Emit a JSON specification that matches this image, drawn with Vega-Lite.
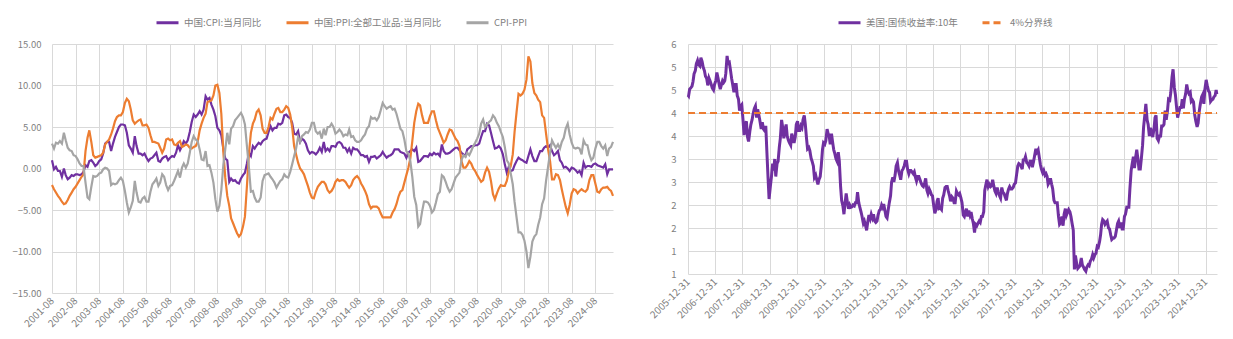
{
  "$schema": "https://vega.github.io/schema/vega-lite/v6.json",
  "background": "white",
  "padding": {"left": 11, "top": 10, "right": 10, "bottom": 5},
  "autosize": {"type": "pad"},
  "bounds": "flush",
  "spacing": 75,
  "resolve": {"scale": {"color": "independent", "strokeDash": "independent", "x": "independent", "y": "independent"}, "legend": {"color": "independent", "strokeDash": "independent"}},
  "config": {
    "font": "Noto Sans CJK SC",
    "view": {"stroke": null},
    "axis": {"grid": true, "gridColor": "#d9d9d9", "gridWidth": 1, "domain": false, "ticks": false, "labelColor": "#7f7f7f", "labelFont": "Noto Sans CJK SC", "labelFontSize": 9.5, "title": null, "labelOverlap": false, "labelFlush": false, "labelBound": false},
    "legend": {"labelFont": "Noto Sans CJK SC", "labelFontSize": 9.5, "labelColor": "#7f7f7f", "symbolType": "stroke", "symbolSize": 484, "symbolStrokeWidth": 3, "columnPadding": 18, "labelOffset": 4, "title": null}
  },
  "hconcat": [
    {
      "width": 561,
      "height": 249,
      "data": {"values": [
{"month":"2001-08","cpi":1.0,"ppi":-2.0,"gap":3.0},
{"month":"2001-09","cpi":-0.1,"ppi":-2.5,"gap":2.4},
{"month":"2001-10","cpi":0.2,"ppi":-2.9,"gap":3.1},
{"month":"2001-11","cpi":-0.3,"ppi":-3.3,"gap":3.0},
{"month":"2001-12","cpi":-0.3,"ppi":-3.6,"gap":3.3},
{"month":"2002-01","cpi":-1.0,"ppi":-4.0,"gap":3.0},
{"month":"2002-02","cpi":0.0,"ppi":-4.3,"gap":4.3},
{"month":"2002-03","cpi":-0.8,"ppi":-4.2,"gap":3.4},
{"month":"2002-04","cpi":-1.3,"ppi":-3.8,"gap":2.5},
{"month":"2002-05","cpi":-1.1,"ppi":-3.3,"gap":2.2},
{"month":"2002-06","cpi":-0.8,"ppi":-2.9,"gap":2.1},
{"month":"2002-07","cpi":-0.9,"ppi":-2.5,"gap":1.6},
{"month":"2002-08","cpi":-0.7,"ppi":-2.2,"gap":1.5},
{"month":"2002-09","cpi":-0.7,"ppi":-1.8,"gap":1.1},
{"month":"2002-10","cpi":-0.8,"ppi":-1.4,"gap":0.6},
{"month":"2002-11","cpi":-0.7,"ppi":-1.0,"gap":0.3},
{"month":"2002-12","cpi":-0.4,"ppi":-0.7,"gap":0.3},
{"month":"2003-01","cpi":0.4,"ppi":2.1,"gap":-1.7},
{"month":"2003-02","cpi":0.2,"ppi":3.7,"gap":-3.5},
{"month":"2003-03","cpi":0.9,"ppi":4.6,"gap":-3.7},
{"month":"2003-04","cpi":1.0,"ppi":3.2,"gap":-2.2},
{"month":"2003-05","cpi":0.7,"ppi":1.6,"gap":-0.9},
{"month":"2003-06","cpi":0.3,"ppi":1.3,"gap":-1.0},
{"month":"2003-07","cpi":0.5,"ppi":1.4,"gap":-0.9},
{"month":"2003-08","cpi":0.9,"ppi":1.5,"gap":-0.6},
{"month":"2003-09","cpi":1.1,"ppi":1.6,"gap":-0.5},
{"month":"2003-10","cpi":1.8,"ppi":1.9,"gap":-0.1},
{"month":"2003-11","cpi":3.0,"ppi":2.9,"gap":0.1},
{"month":"2003-12","cpi":3.2,"ppi":3.2,"gap":0.0},
{"month":"2004-01","cpi":3.2,"ppi":3.5,"gap":-0.3},
{"month":"2004-02","cpi":2.1,"ppi":4.1,"gap":-2.0},
{"month":"2004-03","cpi":3.0,"ppi":4.8,"gap":-1.8},
{"month":"2004-04","cpi":3.8,"ppi":5.7,"gap":-1.9},
{"month":"2004-05","cpi":4.4,"ppi":6.2,"gap":-1.8},
{"month":"2004-06","cpi":5.0,"ppi":6.4,"gap":-1.4},
{"month":"2004-07","cpi":5.3,"ppi":6.4,"gap":-1.1},
{"month":"2004-08","cpi":5.3,"ppi":6.8,"gap":-1.5},
{"month":"2004-09","cpi":5.2,"ppi":7.9,"gap":-2.7},
{"month":"2004-10","cpi":4.3,"ppi":8.4,"gap":-4.1},
{"month":"2004-11","cpi":2.8,"ppi":8.1,"gap":-5.3},
{"month":"2004-12","cpi":2.4,"ppi":7.1,"gap":-4.7},
{"month":"2005-01","cpi":1.9,"ppi":5.8,"gap":-3.9},
{"month":"2005-02","cpi":3.9,"ppi":5.4,"gap":-1.5},
{"month":"2005-03","cpi":2.7,"ppi":5.6,"gap":-2.9},
{"month":"2005-04","cpi":1.8,"ppi":5.8,"gap":-4.0},
{"month":"2005-05","cpi":1.8,"ppi":5.9,"gap":-4.1},
{"month":"2005-06","cpi":1.6,"ppi":5.2,"gap":-3.6},
{"month":"2005-07","cpi":1.8,"ppi":5.2,"gap":-3.4},
{"month":"2005-08","cpi":1.3,"ppi":5.3,"gap":-4.0},
{"month":"2005-09","cpi":0.9,"ppi":4.9,"gap":-4.0},
{"month":"2005-10","cpi":1.2,"ppi":4.0,"gap":-2.8},
{"month":"2005-11","cpi":1.3,"ppi":3.2,"gap":-1.9},
{"month":"2005-12","cpi":1.6,"ppi":3.2,"gap":-1.6},
{"month":"2006-01","cpi":1.9,"ppi":3.1,"gap":-1.2},
{"month":"2006-02","cpi":0.9,"ppi":3.0,"gap":-2.1},
{"month":"2006-03","cpi":0.8,"ppi":2.5,"gap":-1.7},
{"month":"2006-04","cpi":1.2,"ppi":1.9,"gap":-0.7},
{"month":"2006-05","cpi":1.4,"ppi":2.4,"gap":-1.0},
{"month":"2006-06","cpi":1.5,"ppi":3.5,"gap":-2.0},
{"month":"2006-07","cpi":1.0,"ppi":3.6,"gap":-2.6},
{"month":"2006-08","cpi":1.3,"ppi":3.4,"gap":-2.1},
{"month":"2006-09","cpi":1.5,"ppi":3.5,"gap":-2.0},
{"month":"2006-10","cpi":1.4,"ppi":2.9,"gap":-1.5},
{"month":"2006-11","cpi":1.9,"ppi":2.8,"gap":-0.9},
{"month":"2006-12","cpi":2.8,"ppi":3.1,"gap":-0.3},
{"month":"2007-01","cpi":2.2,"ppi":3.3,"gap":-1.1},
{"month":"2007-02","cpi":2.7,"ppi":2.6,"gap":0.1},
{"month":"2007-03","cpi":3.3,"ppi":2.7,"gap":0.6},
{"month":"2007-04","cpi":3.0,"ppi":2.9,"gap":0.1},
{"month":"2007-05","cpi":3.4,"ppi":2.8,"gap":0.6},
{"month":"2007-06","cpi":4.4,"ppi":2.5,"gap":1.9},
{"month":"2007-07","cpi":5.6,"ppi":2.4,"gap":3.2},
{"month":"2007-08","cpi":6.5,"ppi":2.6,"gap":3.9},
{"month":"2007-09","cpi":6.2,"ppi":2.7,"gap":3.5},
{"month":"2007-10","cpi":6.5,"ppi":3.2,"gap":3.3},
{"month":"2007-11","cpi":6.9,"ppi":4.6,"gap":2.3},
{"month":"2007-12","cpi":6.5,"ppi":5.4,"gap":1.1},
{"month":"2008-01","cpi":7.1,"ppi":6.1,"gap":1.0},
{"month":"2008-02","cpi":8.7,"ppi":6.6,"gap":2.1},
{"month":"2008-03","cpi":8.3,"ppi":8.0,"gap":0.3},
{"month":"2008-04","cpi":8.5,"ppi":8.1,"gap":0.4},
{"month":"2008-05","cpi":7.7,"ppi":8.2,"gap":-0.5},
{"month":"2008-06","cpi":7.1,"ppi":8.8,"gap":-1.7},
{"month":"2008-07","cpi":6.3,"ppi":10.0,"gap":-3.7},
{"month":"2008-08","cpi":4.9,"ppi":10.1,"gap":-5.2},
{"month":"2008-09","cpi":4.6,"ppi":9.1,"gap":-4.5},
{"month":"2008-10","cpi":4.0,"ppi":6.6,"gap":-2.6},
{"month":"2008-11","cpi":2.4,"ppi":2.0,"gap":0.4},
{"month":"2008-12","cpi":1.2,"ppi":-1.1,"gap":2.3},
{"month":"2009-01","cpi":1.0,"ppi":-3.3,"gap":4.3},
{"month":"2009-02","cpi":-1.6,"ppi":-4.5,"gap":2.9},
{"month":"2009-03","cpi":-1.2,"ppi":-6.0,"gap":4.8},
{"month":"2009-04","cpi":-1.5,"ppi":-6.6,"gap":5.1},
{"month":"2009-05","cpi":-1.4,"ppi":-7.2,"gap":5.8},
{"month":"2009-06","cpi":-1.7,"ppi":-7.8,"gap":6.1},
{"month":"2009-07","cpi":-1.8,"ppi":-8.2,"gap":6.4},
{"month":"2009-08","cpi":-1.2,"ppi":-7.9,"gap":6.7},
{"month":"2009-09","cpi":-0.8,"ppi":-7.0,"gap":6.2},
{"month":"2009-10","cpi":-0.5,"ppi":-5.8,"gap":5.3},
{"month":"2009-11","cpi":0.6,"ppi":-2.1,"gap":2.7},
{"month":"2009-12","cpi":1.9,"ppi":1.7,"gap":0.2},
{"month":"2010-01","cpi":1.5,"ppi":4.3,"gap":-2.8},
{"month":"2010-02","cpi":2.7,"ppi":5.4,"gap":-2.7},
{"month":"2010-03","cpi":2.4,"ppi":5.9,"gap":-3.5},
{"month":"2010-04","cpi":2.8,"ppi":6.8,"gap":-4.0},
{"month":"2010-05","cpi":3.1,"ppi":7.1,"gap":-4.0},
{"month":"2010-06","cpi":2.9,"ppi":6.4,"gap":-3.5},
{"month":"2010-07","cpi":3.3,"ppi":4.8,"gap":-1.5},
{"month":"2010-08","cpi":3.5,"ppi":4.3,"gap":-0.8},
{"month":"2010-09","cpi":3.6,"ppi":4.3,"gap":-0.7},
{"month":"2010-10","cpi":4.4,"ppi":5.0,"gap":-0.6},
{"month":"2010-11","cpi":5.1,"ppi":6.1,"gap":-1.0},
{"month":"2010-12","cpi":4.6,"ppi":5.9,"gap":-1.3},
{"month":"2011-01","cpi":4.9,"ppi":6.6,"gap":-1.7},
{"month":"2011-02","cpi":4.9,"ppi":7.2,"gap":-2.3},
{"month":"2011-03","cpi":5.4,"ppi":7.3,"gap":-1.9},
{"month":"2011-04","cpi":5.3,"ppi":6.8,"gap":-1.5},
{"month":"2011-05","cpi":5.5,"ppi":6.8,"gap":-1.3},
{"month":"2011-06","cpi":6.4,"ppi":7.1,"gap":-0.7},
{"month":"2011-07","cpi":6.5,"ppi":7.5,"gap":-1.0},
{"month":"2011-08","cpi":6.2,"ppi":7.3,"gap":-1.1},
{"month":"2011-09","cpi":6.1,"ppi":6.5,"gap":-0.4},
{"month":"2011-10","cpi":5.5,"ppi":5.0,"gap":0.5},
{"month":"2011-11","cpi":4.2,"ppi":2.7,"gap":1.5},
{"month":"2011-12","cpi":4.1,"ppi":1.7,"gap":2.4},
{"month":"2012-01","cpi":4.5,"ppi":0.7,"gap":3.8},
{"month":"2012-02","cpi":3.2,"ppi":0.0,"gap":3.2},
{"month":"2012-03","cpi":3.6,"ppi":-0.3,"gap":3.9},
{"month":"2012-04","cpi":3.4,"ppi":-0.7,"gap":4.1},
{"month":"2012-05","cpi":3.0,"ppi":-1.4,"gap":4.4},
{"month":"2012-06","cpi":2.2,"ppi":-2.1,"gap":4.3},
{"month":"2012-07","cpi":1.8,"ppi":-2.9,"gap":4.7},
{"month":"2012-08","cpi":2.0,"ppi":-3.5,"gap":5.5},
{"month":"2012-09","cpi":1.9,"ppi":-3.6,"gap":5.5},
{"month":"2012-10","cpi":1.7,"ppi":-2.8,"gap":4.5},
{"month":"2012-11","cpi":2.0,"ppi":-2.2,"gap":4.2},
{"month":"2012-12","cpi":2.5,"ppi":-1.9,"gap":4.4},
{"month":"2013-01","cpi":2.0,"ppi":-1.6,"gap":3.6},
{"month":"2013-02","cpi":3.2,"ppi":-1.6,"gap":4.8},
{"month":"2013-03","cpi":2.1,"ppi":-1.9,"gap":4.0},
{"month":"2013-04","cpi":2.4,"ppi":-2.6,"gap":5.0},
{"month":"2013-05","cpi":2.1,"ppi":-2.9,"gap":5.0},
{"month":"2013-06","cpi":2.7,"ppi":-2.7,"gap":5.4},
{"month":"2013-07","cpi":2.7,"ppi":-2.3,"gap":5.0},
{"month":"2013-08","cpi":2.6,"ppi":-1.6,"gap":4.2},
{"month":"2013-09","cpi":3.1,"ppi":-1.3,"gap":4.4},
{"month":"2013-10","cpi":3.2,"ppi":-1.5,"gap":4.7},
{"month":"2013-11","cpi":3.0,"ppi":-1.4,"gap":4.4},
{"month":"2013-12","cpi":2.5,"ppi":-1.4,"gap":3.9},
{"month":"2014-01","cpi":2.5,"ppi":-1.6,"gap":4.1},
{"month":"2014-02","cpi":2.0,"ppi":-2.0,"gap":4.0},
{"month":"2014-03","cpi":2.4,"ppi":-2.3,"gap":4.7},
{"month":"2014-04","cpi":1.8,"ppi":-2.0,"gap":3.8},
{"month":"2014-05","cpi":2.5,"ppi":-1.4,"gap":3.9},
{"month":"2014-06","cpi":2.3,"ppi":-1.1,"gap":3.4},
{"month":"2014-07","cpi":2.3,"ppi":-0.9,"gap":3.2},
{"month":"2014-08","cpi":2.0,"ppi":-1.2,"gap":3.2},
{"month":"2014-09","cpi":1.6,"ppi":-1.8,"gap":3.4},
{"month":"2014-10","cpi":1.6,"ppi":-2.2,"gap":3.8},
{"month":"2014-11","cpi":1.4,"ppi":-2.7,"gap":4.1},
{"month":"2014-12","cpi":1.5,"ppi":-3.3,"gap":4.8},
{"month":"2015-01","cpi":0.8,"ppi":-4.3,"gap":5.1},
{"month":"2015-02","cpi":1.4,"ppi":-4.8,"gap":6.2},
{"month":"2015-03","cpi":1.4,"ppi":-4.6,"gap":6.0},
{"month":"2015-04","cpi":1.5,"ppi":-4.6,"gap":6.1},
{"month":"2015-05","cpi":1.2,"ppi":-4.6,"gap":5.8},
{"month":"2015-06","cpi":1.4,"ppi":-4.8,"gap":6.2},
{"month":"2015-07","cpi":1.6,"ppi":-5.4,"gap":7.0},
{"month":"2015-08","cpi":2.0,"ppi":-5.9,"gap":7.9},
{"month":"2015-09","cpi":1.6,"ppi":-5.9,"gap":7.5},
{"month":"2015-10","cpi":1.3,"ppi":-5.9,"gap":7.2},
{"month":"2015-11","cpi":1.5,"ppi":-5.9,"gap":7.4},
{"month":"2015-12","cpi":1.6,"ppi":-5.9,"gap":7.5},
{"month":"2016-01","cpi":1.8,"ppi":-5.3,"gap":7.1},
{"month":"2016-02","cpi":2.3,"ppi":-4.9,"gap":7.2},
{"month":"2016-03","cpi":2.3,"ppi":-4.3,"gap":6.6},
{"month":"2016-04","cpi":2.3,"ppi":-3.4,"gap":5.7},
{"month":"2016-05","cpi":2.0,"ppi":-2.8,"gap":4.8},
{"month":"2016-06","cpi":1.9,"ppi":-2.6,"gap":4.5},
{"month":"2016-07","cpi":1.8,"ppi":-1.7,"gap":3.5},
{"month":"2016-08","cpi":1.3,"ppi":-0.8,"gap":2.1},
{"month":"2016-09","cpi":1.9,"ppi":0.1,"gap":1.8},
{"month":"2016-10","cpi":2.1,"ppi":1.2,"gap":0.9},
{"month":"2016-11","cpi":2.3,"ppi":3.3,"gap":-1.0},
{"month":"2016-12","cpi":2.1,"ppi":5.5,"gap":-3.4},
{"month":"2017-01","cpi":2.5,"ppi":6.9,"gap":-4.4},
{"month":"2017-02","cpi":0.8,"ppi":7.8,"gap":-7.0},
{"month":"2017-03","cpi":0.9,"ppi":7.6,"gap":-6.7},
{"month":"2017-04","cpi":1.2,"ppi":6.4,"gap":-5.2},
{"month":"2017-05","cpi":1.5,"ppi":5.5,"gap":-4.0},
{"month":"2017-06","cpi":1.5,"ppi":5.5,"gap":-4.0},
{"month":"2017-07","cpi":1.4,"ppi":5.5,"gap":-4.1},
{"month":"2017-08","cpi":1.8,"ppi":6.3,"gap":-4.5},
{"month":"2017-09","cpi":1.6,"ppi":6.9,"gap":-5.3},
{"month":"2017-10","cpi":1.9,"ppi":6.9,"gap":-5.0},
{"month":"2017-11","cpi":1.7,"ppi":5.8,"gap":-4.1},
{"month":"2017-12","cpi":1.8,"ppi":4.9,"gap":-3.1},
{"month":"2018-01","cpi":1.5,"ppi":4.3,"gap":-2.8},
{"month":"2018-02","cpi":2.9,"ppi":3.7,"gap":-0.8},
{"month":"2018-03","cpi":2.1,"ppi":3.1,"gap":-1.0},
{"month":"2018-04","cpi":1.8,"ppi":3.4,"gap":-1.6},
{"month":"2018-05","cpi":1.8,"ppi":4.1,"gap":-2.3},
{"month":"2018-06","cpi":1.9,"ppi":4.7,"gap":-2.8},
{"month":"2018-07","cpi":2.1,"ppi":4.6,"gap":-2.5},
{"month":"2018-08","cpi":2.3,"ppi":4.1,"gap":-1.8},
{"month":"2018-09","cpi":2.5,"ppi":3.6,"gap":-1.1},
{"month":"2018-10","cpi":2.5,"ppi":3.3,"gap":-0.8},
{"month":"2018-11","cpi":2.2,"ppi":2.7,"gap":-0.5},
{"month":"2018-12","cpi":1.9,"ppi":0.9,"gap":1.0},
{"month":"2019-01","cpi":1.7,"ppi":0.1,"gap":1.6},
{"month":"2019-02","cpi":1.5,"ppi":0.1,"gap":1.4},
{"month":"2019-03","cpi":2.3,"ppi":0.4,"gap":1.9},
{"month":"2019-04","cpi":2.5,"ppi":0.9,"gap":1.6},
{"month":"2019-05","cpi":2.7,"ppi":0.6,"gap":2.1},
{"month":"2019-06","cpi":2.7,"ppi":0.0,"gap":2.7},
{"month":"2019-07","cpi":2.8,"ppi":-0.3,"gap":3.1},
{"month":"2019-08","cpi":2.8,"ppi":-0.8,"gap":3.6},
{"month":"2019-09","cpi":3.0,"ppi":-1.2,"gap":4.2},
{"month":"2019-10","cpi":3.8,"ppi":-1.6,"gap":5.4},
{"month":"2019-11","cpi":4.5,"ppi":-1.4,"gap":5.9},
{"month":"2019-12","cpi":4.5,"ppi":-0.5,"gap":5.0},
{"month":"2020-01","cpi":5.4,"ppi":0.1,"gap":5.3},
{"month":"2020-02","cpi":5.2,"ppi":-0.4,"gap":5.6},
{"month":"2020-03","cpi":4.3,"ppi":-1.5,"gap":5.8},
{"month":"2020-04","cpi":3.3,"ppi":-3.1,"gap":6.4},
{"month":"2020-05","cpi":2.4,"ppi":-3.7,"gap":6.1},
{"month":"2020-06","cpi":2.5,"ppi":-3.0,"gap":5.5},
{"month":"2020-07","cpi":2.7,"ppi":-2.4,"gap":5.1},
{"month":"2020-08","cpi":2.4,"ppi":-2.0,"gap":4.4},
{"month":"2020-09","cpi":1.7,"ppi":-2.1,"gap":3.8},
{"month":"2020-10","cpi":0.5,"ppi":-2.1,"gap":2.6},
{"month":"2020-11","cpi":-0.5,"ppi":-1.5,"gap":1.0},
{"month":"2020-12","cpi":0.2,"ppi":-0.4,"gap":0.6},
{"month":"2021-01","cpi":-0.3,"ppi":0.3,"gap":-0.6},
{"month":"2021-02","cpi":-0.2,"ppi":1.7,"gap":-1.9},
{"month":"2021-03","cpi":0.4,"ppi":4.4,"gap":-4.0},
{"month":"2021-04","cpi":0.9,"ppi":6.8,"gap":-5.9},
{"month":"2021-05","cpi":1.3,"ppi":9.0,"gap":-7.7},
{"month":"2021-06","cpi":1.1,"ppi":8.8,"gap":-7.7},
{"month":"2021-07","cpi":1.0,"ppi":9.0,"gap":-8.0},
{"month":"2021-08","cpi":0.8,"ppi":9.5,"gap":-8.7},
{"month":"2021-09","cpi":0.7,"ppi":10.7,"gap":-10.0},
{"month":"2021-10","cpi":1.5,"ppi":13.5,"gap":-12.0},
{"month":"2021-11","cpi":2.3,"ppi":12.9,"gap":-10.6},
{"month":"2021-12","cpi":1.5,"ppi":10.3,"gap":-8.8},
{"month":"2022-01","cpi":0.9,"ppi":9.1,"gap":-8.2},
{"month":"2022-02","cpi":0.9,"ppi":8.8,"gap":-7.9},
{"month":"2022-03","cpi":1.5,"ppi":8.3,"gap":-6.8},
{"month":"2022-04","cpi":2.1,"ppi":8.0,"gap":-5.9},
{"month":"2022-05","cpi":2.1,"ppi":6.4,"gap":-4.3},
{"month":"2022-06","cpi":2.5,"ppi":6.1,"gap":-3.6},
{"month":"2022-07","cpi":2.7,"ppi":4.2,"gap":-1.5},
{"month":"2022-08","cpi":2.5,"ppi":2.3,"gap":0.2},
{"month":"2022-09","cpi":2.8,"ppi":0.9,"gap":1.9},
{"month":"2022-10","cpi":2.1,"ppi":-1.3,"gap":3.4},
{"month":"2022-11","cpi":1.6,"ppi":-1.3,"gap":2.9},
{"month":"2022-12","cpi":1.8,"ppi":-0.7,"gap":2.5},
{"month":"2023-01","cpi":2.1,"ppi":-0.8,"gap":2.9},
{"month":"2023-02","cpi":1.0,"ppi":-1.4,"gap":2.4},
{"month":"2023-03","cpi":0.7,"ppi":-2.5,"gap":3.2},
{"month":"2023-04","cpi":0.1,"ppi":-3.6,"gap":3.7},
{"month":"2023-05","cpi":0.2,"ppi":-4.6,"gap":4.8},
{"month":"2023-06","cpi":0.0,"ppi":-5.4,"gap":5.4},
{"month":"2023-07","cpi":-0.3,"ppi":-4.4,"gap":4.1},
{"month":"2023-08","cpi":0.1,"ppi":-3.0,"gap":3.1},
{"month":"2023-09","cpi":0.0,"ppi":-2.5,"gap":2.5},
{"month":"2023-10","cpi":-0.2,"ppi":-2.6,"gap":2.4},
{"month":"2023-11","cpi":-0.5,"ppi":-3.0,"gap":2.5},
{"month":"2023-12","cpi":-0.3,"ppi":-2.7,"gap":2.4},
{"month":"2024-01","cpi":-0.8,"ppi":-2.5,"gap":1.7},
{"month":"2024-02","cpi":0.7,"ppi":-2.7,"gap":3.4},
{"month":"2024-03","cpi":0.1,"ppi":-2.8,"gap":2.9},
{"month":"2024-04","cpi":0.3,"ppi":-2.5,"gap":2.8},
{"month":"2024-05","cpi":0.3,"ppi":-1.4,"gap":1.7},
{"month":"2024-06","cpi":0.2,"ppi":-0.8,"gap":1.0},
{"month":"2024-07","cpi":0.5,"ppi":-0.8,"gap":1.3},
{"month":"2024-08","cpi":0.6,"ppi":-1.8,"gap":2.4},
{"month":"2024-09","cpi":0.4,"ppi":-2.8,"gap":3.2},
{"month":"2024-10","cpi":0.3,"ppi":-2.9,"gap":3.2},
{"month":"2024-11","cpi":0.2,"ppi":-2.5,"gap":2.7},
{"month":"2024-12","cpi":0.1,"ppi":-2.3,"gap":2.4},
{"month":"2025-01","cpi":0.5,"ppi":-2.3,"gap":2.8},
{"month":"2025-02","cpi":-0.7,"ppi":-2.2,"gap":1.5},
{"month":"2025-03","cpi":-0.1,"ppi":-2.5,"gap":2.4},
{"month":"2025-04","cpi":-0.1,"ppi":-2.7,"gap":2.6},
{"month":"2025-05","cpi":-0.1,"ppi":-3.3,"gap":3.2}
      ]},
      "encoding": {
        "x": {"field": "month", "type": "temporal",
          "scale": {"type": "utc", "domain": [{"year": 2001, "month": 8, "date": 1, "utc": true}, {"year": 2025, "month": 5, "date": 1, "utc": true}]},
          "axis": {"format": "%Y-%m", "labelAngle": -45, "labelAlign": "right", "labelBaseline": "middle", "labelFontSize": 10, "labelPadding": 6,
            "values": [
              {"year": 2001, "month": 8, "date": 1, "utc": true}, {"year": 2002, "month": 8, "date": 1, "utc": true}, {"year": 2003, "month": 8, "date": 1, "utc": true}, {"year": 2004, "month": 8, "date": 1, "utc": true},
              {"year": 2005, "month": 8, "date": 1, "utc": true}, {"year": 2006, "month": 8, "date": 1, "utc": true}, {"year": 2007, "month": 8, "date": 1, "utc": true}, {"year": 2008, "month": 8, "date": 1, "utc": true},
              {"year": 2009, "month": 8, "date": 1, "utc": true}, {"year": 2010, "month": 8, "date": 1, "utc": true}, {"year": 2011, "month": 8, "date": 1, "utc": true}, {"year": 2012, "month": 8, "date": 1, "utc": true},
              {"year": 2013, "month": 8, "date": 1, "utc": true}, {"year": 2014, "month": 8, "date": 1, "utc": true}, {"year": 2015, "month": 8, "date": 1, "utc": true}, {"year": 2016, "month": 8, "date": 1, "utc": true},
              {"year": 2017, "month": 8, "date": 1, "utc": true}, {"year": 2018, "month": 8, "date": 1, "utc": true}, {"year": 2019, "month": 8, "date": 1, "utc": true}, {"year": 2020, "month": 8, "date": 1, "utc": true},
              {"year": 2021, "month": 8, "date": 1, "utc": true}, {"year": 2022, "month": 8, "date": 1, "utc": true}, {"year": 2023, "month": 8, "date": 1, "utc": true}, {"year": 2024, "month": 8, "date": 1, "utc": true}
            ]}}
      },
      "layer": [
        {"mark": {"type": "line", "strokeWidth": 2.2},
         "encoding": {
           "y": {"field": "cpi", "type": "quantitative", "scale": {"domain": [-15, 15], "nice": false, "zero": false}, "axis": {"values": [-15, -10, -5, 0, 5, 10, 15], "format": ".2f", "labelPadding": 11}},
           "color": {"datum": "中国:CPI:当月同比", "scale": {"domain": ["中国:CPI:当月同比", "中国:PPI:全部工业品:当月同比", "CPI-PPI"], "range": ["#7030a0", "#ed7d31", "#a5a5a5"]},
             "legend": {"orient": "none", "direction": "horizontal", "legendX": 103, "legendY": -34}}}},
        {"mark": {"type": "line", "strokeWidth": 2.2},
         "encoding": {
           "y": {"field": "ppi", "type": "quantitative", "scale": {"domain": [-15, 15], "nice": false, "zero": false}},
           "color": {"datum": "中国:PPI:全部工业品:当月同比"}}},
        {"mark": {"type": "line", "strokeWidth": 2.2},
         "encoding": {
           "y": {"field": "gap", "type": "quantitative", "scale": {"domain": [-15, 15], "nice": false, "zero": false}},
           "color": {"datum": "CPI-PPI"}}}
      ]
    },
    {
      "width": 529,
      "height": 230,
      "encoding": {
        "x": {"field": "d", "type": "temporal",
          "scale": {"type": "utc", "domain": [{"year": 2005, "month": 12, "date": 31, "utc": true}, {"year": 2025, "month": 6, "date": 2, "utc": true}]},
          "axis": {"format": "%Y-%m-%d", "labelAngle": -45, "labelAlign": "right", "labelBaseline": "middle", "labelFontSize": 10, "labelPadding": 6,
            "values": [
              {"year": 2005, "month": 12, "date": 31, "utc": true}, {"year": 2006, "month": 12, "date": 31, "utc": true}, {"year": 2007, "month": 12, "date": 31, "utc": true}, {"year": 2008, "month": 12, "date": 31, "utc": true},
              {"year": 2009, "month": 12, "date": 31, "utc": true}, {"year": 2010, "month": 12, "date": 31, "utc": true}, {"year": 2011, "month": 12, "date": 31, "utc": true}, {"year": 2012, "month": 12, "date": 31, "utc": true},
              {"year": 2013, "month": 12, "date": 31, "utc": true}, {"year": 2014, "month": 12, "date": 31, "utc": true}, {"year": 2015, "month": 12, "date": 31, "utc": true}, {"year": 2016, "month": 12, "date": 31, "utc": true},
              {"year": 2017, "month": 12, "date": 31, "utc": true}, {"year": 2018, "month": 12, "date": 31, "utc": true}, {"year": 2019, "month": 12, "date": 31, "utc": true}, {"year": 2020, "month": 12, "date": 31, "utc": true},
              {"year": 2021, "month": 12, "date": 31, "utc": true}, {"year": 2022, "month": 12, "date": 31, "utc": true}, {"year": 2023, "month": 12, "date": 31, "utc": true}, {"year": 2024, "month": 12, "date": 31, "utc": true}
            ]}},
        "y": {"field": "v", "type": "quantitative", "scale": {"domain": [0.5, 5.5], "nice": false, "zero": false}, "axis": {"values": [0.5, 1, 1.5, 2, 2.5, 3, 3.5, 4, 4.5, 5, 5.5], "format": ".0f", "labelPadding": 12}}
      },
      "layer": [
        {"data": {"values": [
{"d":"2005-12-30","v":4.39},
{"d":"2006-01-08","v":4.37},{"d":"2006-01-22","v":4.52},{"d":"2006-02-08","v":4.55},{"d":"2006-02-22","v":4.58},
{"d":"2006-03-08","v":4.68},{"d":"2006-03-22","v":4.85},{"d":"2006-04-08","v":4.92},{"d":"2006-04-22","v":5.07},
{"d":"2006-05-08","v":5.14},{"d":"2006-05-22","v":5.05},{"d":"2006-06-08","v":5.02},{"d":"2006-06-22","v":5.20},
{"d":"2006-07-08","v":5.12},{"d":"2006-07-22","v":5.00},{"d":"2006-08-08","v":4.92},{"d":"2006-08-22","v":4.80},
{"d":"2006-09-08","v":4.75},{"d":"2006-09-22","v":4.60},{"d":"2006-10-08","v":4.76},{"d":"2006-10-22","v":4.70},
{"d":"2006-11-08","v":4.62},{"d":"2006-11-22","v":4.54},{"d":"2006-12-08","v":4.50},{"d":"2006-12-22","v":4.62},
{"d":"2007-01-08","v":4.70},{"d":"2007-01-22","v":4.88},{"d":"2007-02-08","v":4.75},{"d":"2007-02-22","v":4.62},
{"d":"2007-03-08","v":4.52},{"d":"2007-03-22","v":4.60},{"d":"2007-04-08","v":4.70},{"d":"2007-04-22","v":4.66},
{"d":"2007-05-08","v":4.70},{"d":"2007-05-22","v":4.86},{"d":"2007-06-08","v":5.24},{"d":"2007-06-22","v":5.08},
{"d":"2007-07-08","v":5.10},{"d":"2007-07-22","v":4.95},{"d":"2007-08-08","v":4.75},{"d":"2007-08-22","v":4.62},
{"d":"2007-09-08","v":4.45},{"d":"2007-09-22","v":4.62},{"d":"2007-10-08","v":4.62},{"d":"2007-10-22","v":4.38},
{"d":"2007-11-08","v":4.30},{"d":"2007-11-22","v":4.05},{"d":"2007-12-08","v":4.15},{"d":"2007-12-22","v":4.18},
{"d":"2008-01-08","v":3.84},{"d":"2008-01-22","v":3.52},{"d":"2008-02-08","v":3.75},{"d":"2008-02-22","v":3.82},
{"d":"2008-03-08","v":3.48},{"d":"2008-03-22","v":3.38},{"d":"2008-04-08","v":3.60},{"d":"2008-04-22","v":3.75},
{"d":"2008-05-08","v":3.85},{"d":"2008-05-22","v":3.98},{"d":"2008-06-08","v":4.10},{"d":"2008-06-22","v":4.15},
{"d":"2008-07-08","v":3.90},{"d":"2008-07-22","v":4.08},{"d":"2008-08-08","v":3.95},{"d":"2008-08-22","v":3.82},
{"d":"2008-09-08","v":3.65},{"d":"2008-09-22","v":3.80},{"d":"2008-10-08","v":3.65},{"d":"2008-10-22","v":3.62},
{"d":"2008-11-08","v":3.72},{"d":"2008-11-22","v":3.18},{"d":"2008-12-08","v":2.60},{"d":"2008-12-22","v":2.13},
{"d":"2009-01-08","v":2.40},{"d":"2009-01-22","v":2.60},{"d":"2009-02-08","v":2.90},{"d":"2009-02-22","v":2.75},
{"d":"2009-03-08","v":3.00},{"d":"2009-03-22","v":2.62},{"d":"2009-04-08","v":2.90},{"d":"2009-04-22","v":2.95},
{"d":"2009-05-08","v":3.25},{"d":"2009-05-22","v":3.45},{"d":"2009-06-08","v":3.85},{"d":"2009-06-22","v":3.70},
{"d":"2009-07-08","v":3.45},{"d":"2009-07-22","v":3.62},{"d":"2009-08-08","v":3.75},{"d":"2009-08-22","v":3.50},
{"d":"2009-09-08","v":3.40},{"d":"2009-09-22","v":3.35},{"d":"2009-10-08","v":3.30},{"d":"2009-10-22","v":3.55},
{"d":"2009-11-08","v":3.45},{"d":"2009-11-22","v":3.35},{"d":"2009-12-08","v":3.48},{"d":"2009-12-22","v":3.75},
{"d":"2010-01-08","v":3.82},{"d":"2010-01-22","v":3.62},{"d":"2010-02-08","v":3.62},{"d":"2010-02-22","v":3.72},
{"d":"2010-03-08","v":3.68},{"d":"2010-03-22","v":3.85},{"d":"2010-04-08","v":3.95},{"d":"2010-04-22","v":3.75},
{"d":"2010-05-08","v":3.45},{"d":"2010-05-22","v":3.22},{"d":"2010-06-08","v":3.25},{"d":"2010-06-22","v":3.18},
{"d":"2010-07-08","v":3.02},{"d":"2010-07-22","v":2.95},{"d":"2010-08-08","v":2.85},{"d":"2010-08-22","v":2.60},
{"d":"2010-09-08","v":2.65},{"d":"2010-09-22","v":2.55},{"d":"2010-10-08","v":2.45},{"d":"2010-10-22","v":2.55},
{"d":"2010-11-08","v":2.62},{"d":"2010-11-22","v":2.85},{"d":"2010-12-08","v":3.20},{"d":"2010-12-22","v":3.35},
{"d":"2011-01-08","v":3.32},{"d":"2011-01-22","v":3.40},{"d":"2011-02-08","v":3.65},{"d":"2011-02-22","v":3.55},
{"d":"2011-03-08","v":3.50},{"d":"2011-03-22","v":3.32},{"d":"2011-04-08","v":3.55},{"d":"2011-04-22","v":3.38},
{"d":"2011-05-08","v":3.20},{"d":"2011-05-22","v":3.12},{"d":"2011-06-08","v":3.00},{"d":"2011-06-22","v":2.95},
{"d":"2011-07-08","v":3.15},{"d":"2011-07-22","v":2.95},{"d":"2011-08-08","v":2.40},{"d":"2011-08-22","v":2.10},
{"d":"2011-09-08","v":1.98},{"d":"2011-09-22","v":1.80},{"d":"2011-10-08","v":2.05},{"d":"2011-10-22","v":2.25},
{"d":"2011-11-08","v":2.05},{"d":"2011-11-22","v":1.92},{"d":"2011-12-08","v":2.00},{"d":"2011-12-22","v":1.95},
{"d":"2012-01-08","v":1.96},{"d":"2012-01-22","v":2.00},{"d":"2012-02-08","v":1.98},{"d":"2012-02-22","v":2.05},
{"d":"2012-03-08","v":2.05},{"d":"2012-03-22","v":2.28},{"d":"2012-04-08","v":2.05},{"d":"2012-04-22","v":1.95},
{"d":"2012-05-08","v":1.85},{"d":"2012-05-22","v":1.75},{"d":"2012-06-08","v":1.60},{"d":"2012-06-22","v":1.65},
{"d":"2012-07-08","v":1.55},{"d":"2012-07-22","v":1.45},{"d":"2012-08-08","v":1.65},{"d":"2012-08-22","v":1.78},
{"d":"2012-09-08","v":1.70},{"d":"2012-09-22","v":1.80},{"d":"2012-10-08","v":1.72},{"d":"2012-10-22","v":1.80},
{"d":"2012-11-08","v":1.65},{"d":"2012-11-22","v":1.62},{"d":"2012-12-08","v":1.65},{"d":"2012-12-22","v":1.78},
{"d":"2013-01-08","v":1.88},{"d":"2013-01-22","v":1.90},{"d":"2013-02-08","v":2.00},{"d":"2013-02-22","v":1.95},
{"d":"2013-03-08","v":2.02},{"d":"2013-03-22","v":1.90},{"d":"2013-04-08","v":1.75},{"d":"2013-04-22","v":1.72},
{"d":"2013-05-08","v":1.90},{"d":"2013-05-22","v":2.05},{"d":"2013-06-08","v":2.20},{"d":"2013-06-22","v":2.50},
{"d":"2013-07-08","v":2.60},{"d":"2013-07-22","v":2.50},{"d":"2013-08-08","v":2.65},{"d":"2013-08-22","v":2.85},
{"d":"2013-09-08","v":2.92},{"d":"2013-09-22","v":2.75},{"d":"2013-10-08","v":2.65},{"d":"2013-10-22","v":2.55},
{"d":"2013-11-08","v":2.75},{"d":"2013-11-22","v":2.78},{"d":"2013-12-08","v":2.85},{"d":"2013-12-22","v":2.95},
{"d":"2014-01-08","v":2.95},{"d":"2014-01-22","v":2.78},{"d":"2014-02-08","v":2.68},{"d":"2014-02-22","v":2.75},
{"d":"2014-03-08","v":2.75},{"d":"2014-03-22","v":2.72},{"d":"2014-04-08","v":2.68},{"d":"2014-04-22","v":2.72},
{"d":"2014-05-08","v":2.60},{"d":"2014-05-22","v":2.52},{"d":"2014-06-08","v":2.62},{"d":"2014-06-22","v":2.62},
{"d":"2014-07-08","v":2.55},{"d":"2014-07-22","v":2.48},{"d":"2014-08-08","v":2.42},{"d":"2014-08-22","v":2.40},
{"d":"2014-09-08","v":2.48},{"d":"2014-09-22","v":2.58},{"d":"2014-10-08","v":2.32},{"d":"2014-10-22","v":2.25},
{"d":"2014-11-08","v":2.35},{"d":"2014-11-22","v":2.30},{"d":"2014-12-08","v":2.22},{"d":"2014-12-22","v":2.20},
{"d":"2015-01-08","v":1.98},{"d":"2015-01-22","v":1.82},{"d":"2015-02-08","v":1.90},{"d":"2015-02-22","v":2.08},
{"d":"2015-03-08","v":2.15},{"d":"2015-03-22","v":1.92},{"d":"2015-04-08","v":1.93},{"d":"2015-04-22","v":1.90},
{"d":"2015-05-08","v":2.15},{"d":"2015-05-22","v":2.22},{"d":"2015-06-08","v":2.38},{"d":"2015-06-22","v":2.40},
{"d":"2015-07-08","v":2.40},{"d":"2015-07-22","v":2.30},{"d":"2015-08-08","v":2.20},{"d":"2015-08-22","v":2.08},
{"d":"2015-09-08","v":2.18},{"d":"2015-09-22","v":2.15},{"d":"2015-10-08","v":2.05},{"d":"2015-10-22","v":2.05},
{"d":"2015-11-08","v":2.30},{"d":"2015-11-22","v":2.25},{"d":"2015-12-08","v":2.22},{"d":"2015-12-22","v":2.25},
{"d":"2016-01-08","v":2.15},{"d":"2016-01-22","v":2.05},{"d":"2016-02-08","v":1.78},{"d":"2016-02-22","v":1.75},
{"d":"2016-03-08","v":1.85},{"d":"2016-03-22","v":1.92},{"d":"2016-04-08","v":1.75},{"d":"2016-04-22","v":1.88},
{"d":"2016-05-08","v":1.78},{"d":"2016-05-22","v":1.85},{"d":"2016-06-08","v":1.70},{"d":"2016-06-22","v":1.60},
{"d":"2016-07-08","v":1.40},{"d":"2016-07-22","v":1.58},{"d":"2016-08-08","v":1.55},{"d":"2016-08-22","v":1.60},
{"d":"2016-09-08","v":1.65},{"d":"2016-09-22","v":1.62},{"d":"2016-10-08","v":1.75},{"d":"2016-10-22","v":1.75},
{"d":"2016-11-08","v":1.85},{"d":"2016-11-22","v":2.32},{"d":"2016-12-08","v":2.45},{"d":"2016-12-22","v":2.55},
{"d":"2017-01-08","v":2.40},{"d":"2017-01-22","v":2.45},{"d":"2017-02-08","v":2.40},{"d":"2017-02-22","v":2.42},
{"d":"2017-03-08","v":2.55},{"d":"2017-03-22","v":2.42},{"d":"2017-04-08","v":2.30},{"d":"2017-04-22","v":2.25},
{"d":"2017-05-08","v":2.38},{"d":"2017-05-22","v":2.28},{"d":"2017-06-08","v":2.20},{"d":"2017-06-22","v":2.15},
{"d":"2017-07-08","v":2.38},{"d":"2017-07-22","v":2.28},{"d":"2017-08-08","v":2.25},{"d":"2017-08-22","v":2.18},
{"d":"2017-09-08","v":2.10},{"d":"2017-09-22","v":2.25},{"d":"2017-10-08","v":2.35},{"d":"2017-10-22","v":2.40},
{"d":"2017-11-08","v":2.35},{"d":"2017-11-22","v":2.35},{"d":"2017-12-08","v":2.38},{"d":"2017-12-22","v":2.45},
{"d":"2018-01-08","v":2.48},{"d":"2018-01-22","v":2.65},{"d":"2018-02-08","v":2.85},{"d":"2018-02-22","v":2.90},
{"d":"2018-03-08","v":2.88},{"d":"2018-03-22","v":2.85},{"d":"2018-04-08","v":2.78},{"d":"2018-04-22","v":2.98},
{"d":"2018-05-08","v":2.98},{"d":"2018-05-22","v":3.05},{"d":"2018-06-08","v":2.92},{"d":"2018-06-22","v":2.90},
{"d":"2018-07-08","v":2.85},{"d":"2018-07-22","v":2.95},{"d":"2018-08-08","v":2.95},{"d":"2018-08-22","v":2.82},
{"d":"2018-09-08","v":2.95},{"d":"2018-09-22","v":3.08},{"d":"2018-10-08","v":3.22},{"d":"2018-10-22","v":3.15},
{"d":"2018-11-08","v":3.20},{"d":"2018-11-22","v":3.05},{"d":"2018-12-08","v":2.88},{"d":"2018-12-22","v":2.78},
{"d":"2019-01-08","v":2.70},{"d":"2019-01-22","v":2.75},{"d":"2019-02-08","v":2.65},{"d":"2019-02-22","v":2.68},
{"d":"2019-03-08","v":2.62},{"d":"2019-03-22","v":2.45},{"d":"2019-04-08","v":2.50},{"d":"2019-04-22","v":2.58},
{"d":"2019-05-08","v":2.45},{"d":"2019-05-22","v":2.35},{"d":"2019-06-08","v":2.10},{"d":"2019-06-22","v":2.05},
{"d":"2019-07-08","v":2.05},{"d":"2019-07-22","v":2.05},{"d":"2019-08-08","v":1.75},{"d":"2019-08-22","v":1.58},
{"d":"2019-09-08","v":1.62},{"d":"2019-09-22","v":1.75},{"d":"2019-10-08","v":1.55},{"d":"2019-10-22","v":1.80},
{"d":"2019-11-08","v":1.92},{"d":"2019-11-22","v":1.78},{"d":"2019-12-08","v":1.85},{"d":"2019-12-22","v":1.90},
{"d":"2020-01-08","v":1.85},{"d":"2020-01-22","v":1.75},{"d":"2020-02-08","v":1.58},{"d":"2020-02-22","v":1.45},
{"d":"2020-03-08","v":0.60},{"d":"2020-03-22","v":0.90},{"d":"2020-04-08","v":0.72},{"d":"2020-04-22","v":0.62},
{"d":"2020-05-08","v":0.65},{"d":"2020-05-22","v":0.68},{"d":"2020-06-08","v":0.85},{"d":"2020-06-22","v":0.70},
{"d":"2020-07-08","v":0.65},{"d":"2020-07-22","v":0.60},{"d":"2020-08-08","v":0.56},{"d":"2020-08-22","v":0.65},
{"d":"2020-09-08","v":0.70},{"d":"2020-09-22","v":0.68},{"d":"2020-10-08","v":0.78},{"d":"2020-10-22","v":0.82},
{"d":"2020-11-08","v":0.92},{"d":"2020-11-22","v":0.85},{"d":"2020-12-08","v":0.92},{"d":"2020-12-22","v":0.95},
{"d":"2021-01-08","v":1.10},{"d":"2021-01-22","v":1.08},{"d":"2021-02-08","v":1.20},{"d":"2021-02-22","v":1.35},
{"d":"2021-03-08","v":1.58},{"d":"2021-03-22","v":1.68},{"d":"2021-04-08","v":1.65},{"d":"2021-04-22","v":1.58},
{"d":"2021-05-08","v":1.62},{"d":"2021-05-22","v":1.65},{"d":"2021-06-08","v":1.50},{"d":"2021-06-22","v":1.48},
{"d":"2021-07-08","v":1.35},{"d":"2021-07-22","v":1.25},{"d":"2021-08-08","v":1.28},{"d":"2021-08-22","v":1.28},
{"d":"2021-09-08","v":1.32},{"d":"2021-09-22","v":1.45},{"d":"2021-10-08","v":1.60},{"d":"2021-10-22","v":1.65},
{"d":"2021-11-08","v":1.50},{"d":"2021-11-22","v":1.62},{"d":"2021-12-08","v":1.48},{"d":"2021-12-22","v":1.48},
{"d":"2022-01-08","v":1.75},{"d":"2022-01-22","v":1.80},{"d":"2022-02-08","v":1.95},{"d":"2022-02-22","v":1.95},
{"d":"2022-03-08","v":1.95},{"d":"2022-03-22","v":2.35},{"d":"2022-04-08","v":2.75},{"d":"2022-04-22","v":2.90},
{"d":"2022-05-08","v":3.05},{"d":"2022-05-22","v":2.80},{"d":"2022-06-08","v":3.05},{"d":"2022-06-22","v":3.20},
{"d":"2022-07-08","v":3.00},{"d":"2022-07-22","v":2.78},{"d":"2022-08-08","v":2.78},{"d":"2022-08-22","v":3.00},
{"d":"2022-09-08","v":3.30},{"d":"2022-09-22","v":3.70},{"d":"2022-10-08","v":3.95},{"d":"2022-10-22","v":4.20},
{"d":"2022-11-08","v":3.85},{"d":"2022-11-22","v":3.75},{"d":"2022-12-08","v":3.50},{"d":"2022-12-22","v":3.68},
{"d":"2023-01-08","v":3.55},{"d":"2023-01-22","v":3.48},{"d":"2023-02-08","v":3.65},{"d":"2023-02-22","v":3.90},
{"d":"2023-03-08","v":3.95},{"d":"2023-03-22","v":3.45},{"d":"2023-04-08","v":3.40},{"d":"2023-04-22","v":3.50},
{"d":"2023-05-08","v":3.50},{"d":"2023-05-22","v":3.72},{"d":"2023-06-08","v":3.72},{"d":"2023-06-22","v":3.75},
{"d":"2023-07-08","v":4.05},{"d":"2023-07-22","v":3.85},{"d":"2023-08-08","v":4.05},{"d":"2023-08-22","v":4.30},
{"d":"2023-09-08","v":4.28},{"d":"2023-09-22","v":4.45},{"d":"2023-10-08","v":4.78},{"d":"2023-10-22","v":4.95},
{"d":"2023-11-08","v":4.55},{"d":"2023-11-22","v":4.40},{"d":"2023-12-08","v":4.12},{"d":"2023-12-22","v":3.90},
{"d":"2024-01-08","v":4.02},{"d":"2024-01-22","v":4.12},{"d":"2024-02-08","v":4.12},{"d":"2024-02-22","v":4.30},
{"d":"2024-03-08","v":4.10},{"d":"2024-03-22","v":4.30},{"d":"2024-04-08","v":4.42},{"d":"2024-04-22","v":4.62},
{"d":"2024-05-08","v":4.48},{"d":"2024-05-22","v":4.42},{"d":"2024-06-08","v":4.45},{"d":"2024-06-22","v":4.25},
{"d":"2024-07-08","v":4.28},{"d":"2024-07-22","v":4.24},{"d":"2024-08-08","v":3.95},{"d":"2024-08-22","v":3.82},
{"d":"2024-09-08","v":3.70},{"d":"2024-09-22","v":3.78},{"d":"2024-10-08","v":4.05},{"d":"2024-10-22","v":4.20},
{"d":"2024-11-08","v":4.35},{"d":"2024-11-22","v":4.40},{"d":"2024-12-08","v":4.20},{"d":"2024-12-22","v":4.52},
{"d":"2025-01-08","v":4.72},{"d":"2025-01-22","v":4.60},{"d":"2025-02-08","v":4.48},{"d":"2025-02-22","v":4.45},
{"d":"2025-03-08","v":4.25},{"d":"2025-03-22","v":4.28},{"d":"2025-04-08","v":4.30},{"d":"2025-04-22","v":4.35},
{"d":"2025-05-08","v":4.38},{"d":"2025-05-22","v":4.50},{"d":"2025-05-30","v":4.41}
         ]},
         "mark": {"type": "line", "strokeWidth": 3},
         "encoding": {
           "color": {"datum": "美国:国债收益率:10年", "scale": {"domain": ["美国:国债收益率:10年", "4%分界线"], "range": ["#7030a0", "#ed7d31"]},
             "legend": {"orient": "none", "direction": "horizontal", "legendX": 149, "legendY": -34}},
           "strokeDash": {"datum": "美国:国债收益率:10年", "scale": {"domain": ["美国:国债收益率:10年", "4%分界线"], "range": [[1, 0], [7, 4]]},
             "legend": {"orient": "none", "direction": "horizontal", "legendX": 149, "legendY": -34}}}},
        {"data": {"values": [{"d": "2005-12-31", "v": 4}, {"d": "2025-06-02", "v": 4}]},
         "mark": {"type": "line", "strokeWidth": 2},
         "encoding": {
           "color": {"datum": "4%分界线"},
           "strokeDash": {"datum": "4%分界线"}}}
      ]
    }
  ]
}
